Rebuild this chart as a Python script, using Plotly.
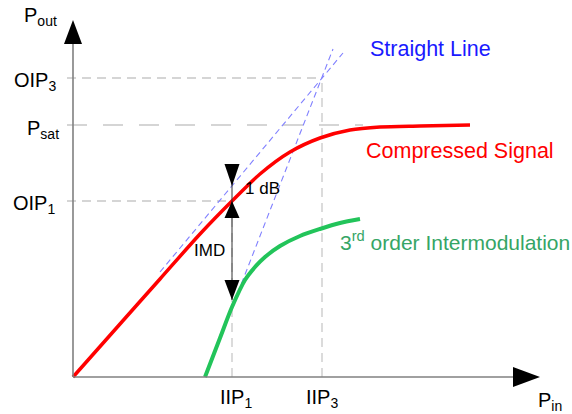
import plotly.graph_objects as go

# ---- data (P_in / P_out in arbitrary diagram units) ----
comp_pin = [0, 47, 87, 127, 159, 187, 217, 247, 277, 307, 347, 397]
comp_pout = [0, 53, 98, 143, 176, 203, 225, 239, 247, 250, 251, 252]

imd_pin = [132, 147, 159, 172, 182, 192, 207, 227, 247, 267, 287]
imd_pout = [0, 39, 70, 97, 110, 120, 131, 141, 148, 154, 158]

line1_pin = [87, 270]
line1_pout = [105, 324]
line3_pin = [132, 260]
line3_pout = [0, 328]

IIP1 = 159
IIP3 = 249
OIP1 = 176
PSAT = 252
OIP3 = 299
ONE_DB_TOP = 191     # straight-line level at IIP1
IMD_BOTTOM = 77      # IM3 level at IIP1
PSAT_END = 290

X_AXIS_END = 467
Y_AXIS_END = 357

labels = {
    "pout": "P<sub>out</sub>", "oip3": "OIP<sub>3</sub>", "psat": "P<sub>sat</sub>",
    "oip1": "OIP<sub>1</sub>", "iip1": "IIP<sub>1</sub>", "iip3": "IIP<sub>3</sub>",
    "pin": "P<sub>in</sub>",
}

FONT = "Liberation Sans, Arial, sans-serif"
GRAY = "#c8c8c8"
AXIS = "#808080"

fig = go.Figure()

# guide dashed lines
def gline(x0, y0, x1, y1, dash):
    fig.add_trace(go.Scatter(x=[x0, x1], y=[y0, y1], mode="lines",
                             line=dict(color=GRAY, width=1.3, dash=dash),
                             hoverinfo="skip", showlegend=False))

gline(-6, OIP3, IIP3, OIP3, "9px,6px")
gline(-6, PSAT, PSAT_END, PSAT, "20px,16px")
gline(-6, OIP1, IIP1, OIP1, "9px,6px")
gline(IIP1, 0, IIP1, OIP1, "9px,6px")
gline(IIP3, 0, IIP3, OIP3, "9px,6px")

# straight (extrapolated) lines
for xs, ys in [(line1_pin, line1_pout), (line3_pin, line3_pout)]:
    fig.add_trace(go.Scatter(x=xs, y=ys, mode="lines",
                             line=dict(color="#8080ff", width=1.1, dash="6px,4px"),
                             hoverinfo="skip", showlegend=False))

# curves
fig.add_trace(go.Scatter(x=imd_pin, y=imd_pout, mode="lines",
                         line=dict(color="#22c45a", width=4, shape="spline", smoothing=0.8),
                         showlegend=False))
fig.add_trace(go.Scatter(x=comp_pin, y=comp_pout, mode="lines",
                         line=dict(color="#ff0000", width=3.5, shape="spline", smoothing=0.8),
                         showlegend=False))

shapes = []
# axes
shapes.append(dict(type="line", x0=0, y0=0, x1=X_AXIS_END - 27, y1=0,
                   line=dict(color=AXIS, width=1.6)))
shapes.append(dict(type="line", x0=0, y0=0, x1=0, y1=Y_AXIS_END - 24,
                   line=dict(color=AXIS, width=1.6)))
shapes.append(dict(type="path",
                   path=f"M {X_AXIS_END} 0 L {X_AXIS_END-27} 10 L {X_AXIS_END-27} -10 Z",
                   fillcolor="black", line=dict(width=0)))
shapes.append(dict(type="path",
                   path=f"M 0 {Y_AXIS_END} L -9 {Y_AXIS_END-24} L 9 {Y_AXIS_END-24} Z",
                   fillcolor="black", line=dict(width=0)))
# 1 dB / IMD arrows
shapes.append(dict(type="line", x0=IIP1, y0=IMD_BOTTOM, x1=IIP1, y1=ONE_DB_TOP + 21,
                   line=dict(color="#333333", width=1)))
hw = 7.5
shapes.append(dict(type="path",
                   path=f"M {IIP1} {ONE_DB_TOP} L {IIP1-hw} {ONE_DB_TOP+22} L {IIP1+hw} {ONE_DB_TOP+22} Z",
                   fillcolor="black", line=dict(width=0)))
shapes.append(dict(type="path",
                   path=f"M {IIP1} {OIP1} L {IIP1-hw} {OIP1-17} L {IIP1+hw} {OIP1-17} Z",
                   fillcolor="black", line=dict(width=0)))
shapes.append(dict(type="path",
                   path=f"M {IIP1} {IMD_BOTTOM} L {IIP1-hw} {IMD_BOTTOM+20} L {IIP1+hw} {IMD_BOTTOM+20} Z",
                   fillcolor="black", line=dict(width=0)))

def txt(x, y, t, color="black", size=20, xanchor="center"):
    return dict(x=x, y=y, text=t, showarrow=False, xanchor=xanchor, yanchor="middle",
                font=dict(family=FONT, size=size, color=color))

annotations = [
    txt(-33, 361, labels["pout"]),
    txt(-38, 296, labels["oip3"]),
    txt(-30, 248, labels["psat"]),
    txt(-39, 173, labels["oip1"]),
    txt(163, -21, labels["iip1"]),
    txt(249, -21, labels["iip3"]),
    txt(477, -24, labels["pin"]),
    txt(357, 328, "Straight Line", color="#1a1aff", size=21.5),
    txt(387, 226, "Compressed Signal", color="#ff0000", size=21.5),
    txt(382, 136, "3<sup>rd</sup> order Intermodulation", color="#35a565", size=21),
    txt(189, 189, "1 dB", size=17),
    txt(136, 127, "IMD", size=17),
]

fig.update_layout(
    width=572, height=414, margin=dict(l=0, r=0, t=0, b=0),
    paper_bgcolor="white", plot_bgcolor="white",
    xaxis=dict(range=[-73, 499], visible=False, fixedrange=True),
    yaxis=dict(range=[-37, 377], visible=False, fixedrange=True),
    shapes=shapes, annotations=annotations, showlegend=False,
)
fig.write_html("out.html", config={"displayModeBar": False},
               post_script="document.body.style.margin='0';document.body.style.overflow='hidden';")
